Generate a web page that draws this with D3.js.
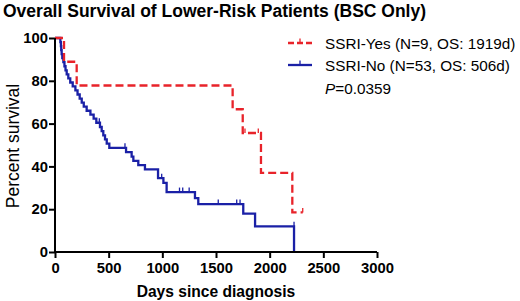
<!DOCTYPE html>
<html><head><meta charset="utf-8">
<script src="https://cdn.jsdelivr.net/npm/d3@7"></script>
<style>body{margin:0;background:#fff}svg{display:block}text{font-family:"Liberation Sans",Arial,sans-serif}</style>
</head><body><svg id="c" width="520" height="301"></svg>
<script>
const title = "Overall Survival of Lower-Risk Patients (BSC Only)";
const xTicks = [0,500,1000,1500,2000,2500,3000];
const yTicks = [0,20,40,60,80,100];
// SSRI-Yes: event steps [day, survival %]
const yesDays = [84, 202, 1655, 1749, 1919, 2211];
const yesSurv = [88.9, 77.8, 66.7, 55.6, 37.0, 18.5];
const yesCensor = [1770, 1894, 2308];
const yesEnd = 2308;
// SSRI-No
const noDays = [50,55,58,62,68,78,88,98,109,124,142,165,190,210,230,249,268,295,330,360,385,
  419,435,450,466,482,506,662,714,730,776,838,960,1010,1040,1304,1335,1754,1864,2227];
const noSurv = [98.1,96.2,94.3,92.5,90.6,88.7,86.8,84.9,83.0,81.1,79.2,77.4,75.5,73.6,71.7,69.8,67.9,66.0,64.2,62.3,60.4,
  58.4,56.5,54.5,52.6,50.6,48.7,46.7,44.6,42.6,40.6,38.6,34.5,32.3,28.0,25.2,22.4,17.9,12.0,0];
const noCensor = [413,652,994,1160,1190,1250,1521,1693,1724,2227];
const noEnd = 2227;
const legendLabels = ["SSRI-Yes (N=9, OS: 1919d)", "SSRI-No (N=53, OS: 506d)"];
const pText = "=0.0359";

const svg = d3.select("#c");
const x = d3.scaleLinear().domain([0,3000]).range([55,377]);
const y = d3.scaleLinear().domain([0,100]).range([252,38]);

svg.append("text").attr("x",3).attr("y",16.5).attr("font-size",17.5).attr("font-weight","bold").text(title);

function stepPts(days, surv, end){
  const pts=[[0,100]];
  days.forEach((d,i)=>pts.push([d,surv[i]]));
  const last = pts[pts.length-1];
  if (end > last[0]) pts.push([end,last[1]]);
  return pts;
}
function levelAt(days, surv, t){
  let s=100; days.forEach((d,i)=>{ if(d<t) s=surv[i]; }); return s;
}
const line = d3.line().x(d=>x(d[0])).y(d=>y(d[1])).curve(d3.curveStepAfter);

const series = [
 {days:yesDays, surv:yesSurv, cens:yesCensor, end:yesEnd, color:"#e8232a", dash:"8,4"},
 {days:noDays, surv:noSurv, cens:noCensor, end:noEnd, color:"#1a20a6", dash:null}
];
[series[1], series[0]].forEach(s=>{
  svg.append("path").attr("d",line(stepPts(s.days,s.surv,s.end))).attr("fill","none")
    .attr("stroke",s.color).attr("stroke-width",2.3).attr("stroke-dasharray",s.dash);
  svg.selectAll(null).data(s.cens).enter().append("line")
    .attr("x1",d=>x(d)).attr("x2",d=>x(d))
    .attr("y1",d=>y(levelAt(s.days,s.surv,d))).attr("y2",d=>y(levelAt(s.days,s.surv,d))-4.5)
    .attr("stroke",s.color).attr("stroke-width",1.3);
});

// axes
const xa = svg.append("g").attr("transform","translate(0,252)")
  .call(d3.axisBottom(x).tickValues(xTicks).tickSize(6).tickPadding(4).tickFormat(d3.format("d")));
const ya = svg.append("g").attr("transform","translate(55,0)")
  .call(d3.axisLeft(y).tickValues(yTicks).tickSize(6).tickPadding(1));
[xa,ya].forEach(g=>{
  g.select(".domain").attr("stroke","#000").attr("stroke-width",2);
  g.selectAll(".tick line").attr("stroke","#000").attr("stroke-width",2);
  g.selectAll(".tick text").attr("font-size",14.8).attr("font-weight","bold").attr("fill","#000")
   .attr("font-family","'Liberation Sans',Arial,sans-serif");
});
xa.select(".domain").attr("d","M55,0H377");
ya.select(".domain").attr("d","M0,252V38");

svg.append("text").attr("x",216).attr("y",297).attr("text-anchor","middle")
  .attr("font-size",15.6).attr("font-weight","bold").text("Days since diagnosis");
svg.append("text").attr("transform","translate(19,146) rotate(-90)").attr("text-anchor","middle")
  .attr("font-size",17.5).text("Percent survival");

// legend
const lg = [ {y:43, s:series[0]}, {y:65, s:series[1]} ];
lg.forEach((l,i)=>{
  svg.append("line").attr("x1",288).attr("x2",312).attr("y1",l.y).attr("y2",l.y)
    .attr("stroke",l.s.color).attr("stroke-width",2.3).attr("stroke-dasharray",l.s.dash ? "6,3" : null);
  svg.append("line").attr("x1",300).attr("x2",300).attr("y1",l.y).attr("y2",l.y-4.5)
    .attr("stroke",l.s.color).attr("stroke-width",1.3);
  svg.append("text").attr("x",325).attr("y",l.y+5.5).attr("font-size",15.3).text(legendLabels[i]);
});
const pt = svg.append("text").attr("x",325).attr("y",94).attr("font-size",15.3);
pt.append("tspan").attr("font-style","italic").text("P");
pt.append("tspan").text(pText);
</script></body></html>
